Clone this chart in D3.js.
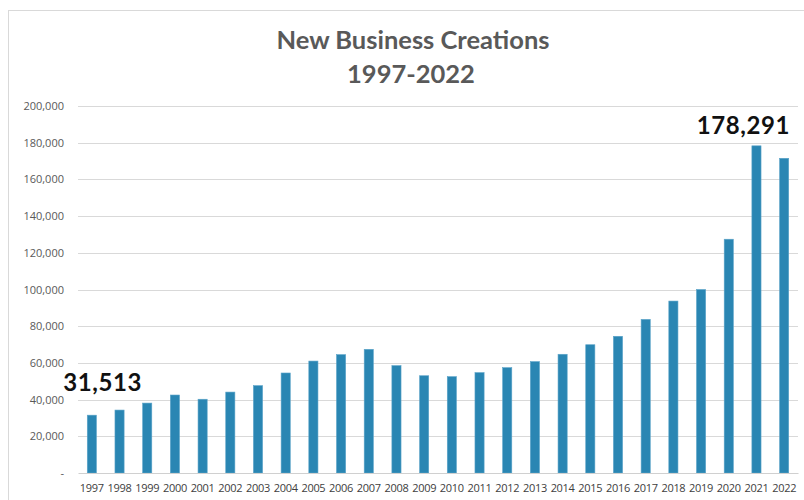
<!DOCTYPE html>
<html>
<head>
<meta charset="utf-8">
<title>New Business Creations</title>
<script src="https://d3js.org/d3.v7.min.js"></script>
<style>
  body { margin: 0; background: #fff; }
</style>
</head>
<body>
<div id="chart"></div>
<script>
// data
var years = ["1997","1998","1999","2000","2001","2002","2003","2004","2005","2006","2007","2008","2009",
             "2010","2011","2012","2013","2014","2015","2016","2017","2018","2019","2020","2021","2022"];
var creations = [31513, 34300, 38100, 42500, 40200, 44100, 47600, 54500, 61000, 64500, 67400, 58500, 53000,
                 52500, 54700, 57400, 60700, 64700, 69900, 74500, 83700, 93700, 100000, 127400, 178291, 171500];
var yTicks = [0, 20000, 40000, 60000, 80000, 100000, 120000, 140000, 160000, 180000, 200000];
var callouts = [{ year: "1997", value: 31513 }, { year: "2021", value: 178291 }];

var width = 804, height = 500;

var svg = d3.select("#chart").append("svg")
    .attr("width", width)
    .attr("height", height);

// chart frame
svg.append("rect")
    .attr("x", 8.5).attr("y", 10.5)
    .attr("width", 820).attr("height", 520)
    .attr("fill", "none")
    .attr("stroke", "#d9d9d9");

var x = d3.scaleBand()
    .domain(years)
    .range([78, 798])
    .paddingInner(0.67)
    .paddingOuter(0.335);

var y = d3.scaleLinear()
    .domain([0, 200000])
    .range([473, 106]);

// gridlines
svg.append("g")
    .selectAll("line")
    .data(yTicks.slice(1))
    .enter().append("line")
    .attr("x1", 78).attr("x2", 798)
    .attr("y1", function (d) { return Math.round(y(d)) + 0.5; })
    .attr("y2", function (d) { return Math.round(y(d)) + 0.5; })
    .attr("stroke", "#d9d9d9")
    .attr("stroke-width", 1.2);

// y axis labels
var fmt = d3.format(",");
var yAxis = d3.axisLeft(y)
    .tickValues(yTicks)
    .tickSize(0)
    .tickPadding(14)
    .tickFormat(function (d) { return d === 0 ? "-" : fmt(d); });
var yg = svg.append("g")
    .attr("transform", "translate(78,0)")
    .call(yAxis);
yg.select(".domain").remove();
yg.selectAll("text")
    .attr("fill", "#595959")
    .style("font-family", "'Open Sans', sans-serif")
    .style("font-size", "11px");

// bars
svg.append("g")
    .selectAll("rect")
    .data(creations)
    .enter().append("rect")
    .attr("x", function (d, i) { return x(years[i]); })
    .attr("y", function (d) { return y(d); })
    .attr("width", x.bandwidth())
    .attr("height", function (d) { return y(0) - y(d); })
    .attr("fill", "#2a86b3")
    .attr("stroke", "#5aa3c8")
    .attr("stroke-width", 0.6);

// x axis
var xAxis = d3.axisBottom(x).tickSize(0).tickPadding(11);
var xg = svg.append("g")
    .attr("transform", "translate(0,473)")
    .call(xAxis);
xg.select(".domain")
    .attr("stroke", "#d0d0d0")
    .attr("stroke-width", 1.2);
xg.selectAll("text")
    .attr("fill", "#404040")
    .style("font-family", "'Open Sans', sans-serif")
    .style("font-size", "11px")
    .style("letter-spacing", "-0.3px");

// title
var title = svg.append("text")
    .attr("text-anchor", "middle")
    .attr("fill", "#595959")
    .style("font-family", "Lato, sans-serif")
    .style("font-weight", "bold")
    .style("font-size", "25.5px");
title.append("tspan").attr("x", 413).attr("y", 49).text("New Business Creations");
title.append("tspan").attr("x", 411).attr("y", 83).text("1997-2022");

// value callouts
svg.append("g")
    .selectAll("text")
    .data(callouts)
    .enter().append("text")
    .attr("x", function (d, i) { return i === 0 ? x(d.year) - 24 : x(d.year) + x.bandwidth() + 29; })
    .attr("y", function (d, i) { return i === 0 ? y(d.value) - 24 : y(d.value) - 12; })
    .attr("text-anchor", function (d, i) { return i === 0 ? "start" : "end"; })
    .attr("fill", "#111")
    .style("font-family", "Lato, sans-serif")
    .style("font-weight", "bold")
    .style("font-size", "24px")
    .style("letter-spacing", "0.6px")
    .text(function (d) { return fmt(d.value); });
</script>
</body>
</html>
